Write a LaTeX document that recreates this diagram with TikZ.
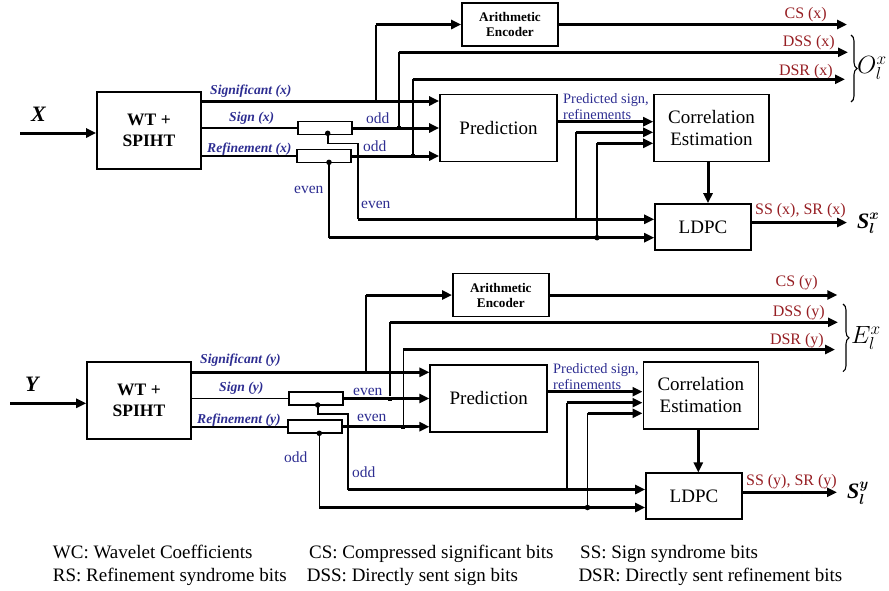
\documentclass[tikz,border=0pt]{standalone}
\usepackage{amsmath}
\usepackage{fontspec}
\setmainfont{Liberation Serif}
\usepackage{tikz}
\usetikzlibrary{arrows.meta, positioning}
\usetikzlibrary{decorations.pathreplacing}

\definecolor{lblue}{RGB}{45,45,145}
\definecolor{dred}{RGB}{150,30,35}

\begin{document}
\begin{tikzpicture}[
		x=1pt, y=-1pt,
		block/.style={
			rectangle,
			draw,
			line width=1.6pt,
			align=center,
			inner sep=0pt,
			font=\fontsize{19}{22}\selectfont
		},
		wtblock/.style={block, minimum width=104pt, minimum height=77pt, font=\fontsize{17.5}{21}\selectfont\bfseries},
		aeblock/.style={block, minimum width=96pt, minimum height=43pt, font=\fontsize{13.2}{15}\selectfont\bfseries},
		pblock/.style={block, minimum width=117pt, minimum height=67pt},
		ceblock/.style={block, minimum width=115pt, minimum height=67pt},
		lblock/.style={block, minimum width=96pt, minimum height=46pt},
		switch/.style={rectangle, draw, line width=1.6pt, minimum width=54pt, minimum height=13pt, inner sep=0pt},
		bus/.style={line width=3pt},
		wire/.style={line width=1.6pt},
		arrow/.style={bus, -{Triangle[length=10pt, width=9pt]}},
		bit/.style={circle, fill, inner sep=0pt, minimum size=5.5pt},
		tap/.style={rectangle, fill, inner sep=0pt, minimum size=4pt},
		stream/.style={anchor=base west, inner sep=0pt, text=lblue, font=\fontsize{13.6}{16}\selectfont\bfseries\itshape},
		parity/.style={anchor=base west, inner sep=0pt, text=lblue, font=\fontsize{15.5}{16}\selectfont},
		outlbl/.style={anchor=base east, inner sep=0pt, text=dred, font=\fontsize{16}{18}\selectfont},
		keytext/.style={anchor=base west, inner sep=0pt, font=\fontsize{19}{22}\selectfont}
		]
		\useasboundingbox (0,0) rectangle (889,590);
		
		% Nodes (x branch)
		\coordinate (inx) at (20,133);
		\node[wtblock] (wtx) at (149,130.5) {WT +\\SPIHT};
		\node[switch] (swsx) at (325,128) {};
		\node[switch] (swrx) at (324,156) {};
		\node[aeblock] (aex) at (510,24.5) {Arithmetic\\Encoder};
		\node[pblock] (predx) at (498.5,128) {Prediction};
		\node[ceblock] (cex) at (711.5,128) {Correlation\\Estimation};
		\node[lblock] (ldpcx) at (703,227) {LDPC};
		
		\coordinate (jgx) at (375.7,101);
		\node[tap] (jsx) at (399,128) {};
		\node[tap] (jrx) at (412.7,156) {};
		\node[bit] (bsx) at (327.7,133.3) {};
		\node[bit] (brx) at (329,162.3) {};
		\coordinate (ex1) at (357.7,219.3);
		\coordinate (ex2) at (329,237.7);
		\coordinate (tx1) at (576,219.3);
		\node[bit] (tx2) at (597,237.7) {};
		\coordinate (csx) at (847,24.5);
		\coordinate (dssx) at (848,52.3);
		\coordinate (dsrx) at (845,79.3);
		\coordinate (ssx) at (847,222.5);
		\coordinate (poutx) at ([yshift=6.3pt]predx.east);
		\coordinate (cin2x) at ([yshift=-4.3pt]cex.west);
		\coordinate (cin3x) at ([yshift=-15.3pt]cex.west);
		
		% Arrows (x branch)
		\draw[arrow] (inx) -- (inx -| wtx.west);
		\draw[arrow] (wtx.east |- jgx) -- (jgx -| predx.west);
		\draw[wire] (jgx) -- (jgx |- aex);
		\draw[arrow] (jgx |- aex) -- (aex.west);
		\draw[arrow] (aex.east) -- (csx);
		\draw[wire] (wtx.east |- swsx) -- (swsx.west);
		\draw[arrow] (swsx.east) -- (swsx.east -| predx.west);
		\draw[wire] (jsx) -- (jsx |- dssx);
		\draw[arrow] (jsx |- dssx) -- (dssx);
		\draw[wire] (wtx.east |- swrx) -- (swrx.west);
		\draw[arrow] (swrx.east) -- (swrx.east -| predx.west);
		\draw[wire] (jrx) -- (jrx |- dsrx);
		\draw[arrow] (jrx |- dsrx) -- (dsrx);
		\draw[wire] (bsx.center) -- ++(0,10) -| (ex1);
		\draw[arrow] (ex1) -- (ex1 -| ldpcx.west);
		\draw[wire] (brx.center) -- (ex2);
		\draw[arrow] (ex2) -- (ex2 -| ldpcx.west);
		\draw[arrow] (poutx) -- (poutx -| cex.west);
		\draw[wire] (tx1) -- (tx1 |- cin2x);
		\draw[arrow] (tx1 |- cin2x) -- (cin2x);
		\draw[wire] (tx2.center) -- (tx2 |- cin3x);
		\draw[arrow] (tx2 |- cin3x) -- (cin3x);
		\draw[arrow] ([xshift=-3.5pt]cex.south) -- ([xshift=-3.5pt]cex.south |- ldpcx.north);
		\draw[arrow] ([yshift=4.5pt]ldpcx.east) -- (ssx);
		\draw[wire, line width=1.1pt, decorate, decoration={brace, amplitude=6pt}] (851,35) -- (851,102);
		
		% Labels (x branch)
		\node[anchor=base west, inner sep=0pt, font=\fontsize{22}{24}\selectfont\bfseries\itshape] (lx) at (31,121.5) {X};
		\node[stream] (lsigx) at (210,94) {Significant (x)};
		\node[stream] (lsgnx) at (229,121) {Sign (x)};
		\node[stream] (lrefx) at (207,152) {Refinement (x)};
		\node[parity] (lo1x) at (366,123) {odd};
		\node[parity] (lo2x) at (363,151.5) {odd};
		\node[parity] (le1x) at (294,193) {even};
		\node[parity] (le2x) at (361,208) {even};
		\node[parity, align=left, font=\fontsize{14.4}{16}\selectfont] (lpx) at (563,119) {Predicted sign,\\refinements};
		\node[outlbl] (lcsx) at (827,18.5) {CS (x)};
		\node[outlbl] (ldssx) at (835,46) {DSS (x)};
		\node[outlbl] (ldsrx) at (833,75) {DSR (x)};
		\node[outlbl] (lssx) at (846,214) {SS (x), SR (x)};
		\node[anchor=west, inner sep=0pt, font=\fontsize{23}{24}\selectfont] (lox) at (857,68) {$O_l^x$};
		\node[anchor=west, inner sep=0pt, font=\fontsize{22}{24}\selectfont] (lsx) at (857,223) {$\mbox{\bfseries\itshape S}_{\boldsymbol{l}}^{\boldsymbol{x}}$};
		
		% Nodes (y branch)
		\coordinate (iny) at (10,403.3);
		\node[wtblock] (wty) at (139,400.3) {WT +\\SPIHT};
		\node[switch] (swsy) at (316,398.5) {};
		\node[switch] (swry) at (314.7,426.7) {};
		\node[aeblock] (aey) at (500.8,295) {Arithmetic\\Encoder};
		\node[pblock] (predy) at (488.7,398.3) {Prediction};
		\node[ceblock] (cey) at (700.8,395.3) {Correlation\\Estimation};
		\node[lblock] (ldpcy) at (694,496.2) {LDPC};
		
		\coordinate (jgy) at (366,372.3);
		\node[tap] (jsy) at (390,398.5) {};
		\node[tap] (jry) at (403.3,426.7) {};
		\node[bit] (bsy) at (317.7,405) {};
		\node[bit] (bry) at (319.3,433.3) {};
		\coordinate (ey1) at (347.7,489.5);
		\coordinate (ey2) at (319.3,507.5);
		\coordinate (ty1) at (566.7,489.5);
		\node[bit] (ty2) at (587.5,507.5) {};
		\coordinate (csy) at (837.3,295);
		\coordinate (dssy) at (838,322.3);
		\coordinate (dsry) at (835,349.5);
		\coordinate (ssy) at (837,492.3);
		\coordinate (pouty) at ([yshift=6.6pt]predy.east);
		\coordinate (cin2y) at ([yshift=-7.4pt]cey.west);
		\coordinate (cin3y) at ([yshift=-18pt]cey.west);
		
		% Arrows (y branch)
		\draw[arrow] (iny) -- (iny -| wty.west);
		\draw[arrow] (wty.east |- jgy) -- (jgy -| predy.west);
		\draw[wire] (jgy) -- (jgy |- aey);
		\draw[arrow] (jgy |- aey) -- (aey.west);
		\draw[arrow] (aey.east) -- (csy);
		\draw[wire] (wty.east |- swsy) -- (swsy.west);
		\draw[arrow] (swsy.east) -- (swsy.east -| predy.west);
		\draw[wire] (jsy) -- (jsy |- dssy);
		\draw[arrow] (jsy |- dssy) -- (dssy);
		\draw[wire] (wty.east |- swry) -- (swry.west);
		\draw[arrow] (swry.east) -- (swry.east -| predy.west);
		\draw[wire] (jry) -- (jry |- dsry);
		\draw[arrow] (jry |- dsry) -- (dsry);
		\draw[wire] (bsy.center) -- ++(0,8.7) -| (ey1);
		\draw[arrow] (ey1) -- (ey1 -| ldpcy.west);
		\draw[wire] (bry.center) -- (ey2);
		\draw[arrow] (ey2) -- (ey2 -| ldpcy.west);
		\draw[arrow] (pouty) -- (pouty -| cey.west);
		\draw[wire] (ty1) -- (ty1 |- cin2y);
		\draw[arrow] (ty1 |- cin2y) -- (cin2y);
		\draw[wire] (ty2.center) -- (ty2 |- cin3y);
		\draw[arrow] (ty2 |- cin3y) -- (cin3y);
		\draw[arrow] ([xshift=-2.5pt]cey.south) -- ([xshift=-2.5pt]cey.south |- ldpcy.north);
		\draw[arrow] ([yshift=3.9pt]ldpcy.east) -- (ssy);
		\draw[wire, line width=1.1pt, decorate, decoration={brace, amplitude=6pt}] (843,304) -- (843,371.7);
		
		% Labels (y branch)
		\node[anchor=base west, inner sep=0pt, font=\fontsize{22}{24}\selectfont\bfseries\itshape] (ly) at (25,391.5) {Y};
		\node[stream] (lsigy) at (200,363.5) {Significant (y)};
		\node[stream] (lsgny) at (219,391) {Sign (y)};
		\node[stream] (lrefy) at (197,423) {Refinement (y)};
		\node[parity] (le1y) at (353,395) {even};
		\node[parity] (le2y) at (357,421.5) {even};
		\node[parity] (lo1y) at (284,462) {odd};
		\node[parity] (lo2y) at (352,477) {odd};
		\node[parity, align=left, font=\fontsize{14.4}{15.5}\selectfont] (lpy) at (553,389) {Predicted sign,\\refinements};
		\node[outlbl] (lcsy) at (818,286) {CS (y)};
		\node[outlbl] (ldssy) at (825,316) {DSS (y)};
		\node[outlbl] (ldsry) at (824,344) {DSR (y)};
		\node[outlbl] (lssy) at (837,485) {SS (y), SR (y)};
		\node[anchor=west, inner sep=0pt, font=\fontsize{23}{24}\selectfont] (ley) at (851,338) {$E_l^x$};
		\node[anchor=west, inner sep=0pt, font=\fontsize{22}{24}\selectfont] (lsy) at (847,493) {$\mbox{\bfseries\itshape S}_{\boldsymbol{l}}^{\boldsymbol{y}}$};
		
		% Legend
		\node[keytext] (kwc) at (52.7,558.3) {WC: Wavelet Coefficients};
		\node[keytext] (kcs) at (309,558.3) {CS: Compressed significant bits};
		\node[keytext] (kss) at (580,558.3) {SS: Sign syndrome bits};
		\node[keytext] (krs) at (52.7,581.7) {RS: Refinement syndrome bits};
		\node[keytext] (kdss) at (306.7,581.7) {DSS: Directly sent sign bits};
		\node[keytext] (kdsr) at (578.3,581.7) {DSR: Directly sent refinement bits};
	\end{tikzpicture}
\end{document}
